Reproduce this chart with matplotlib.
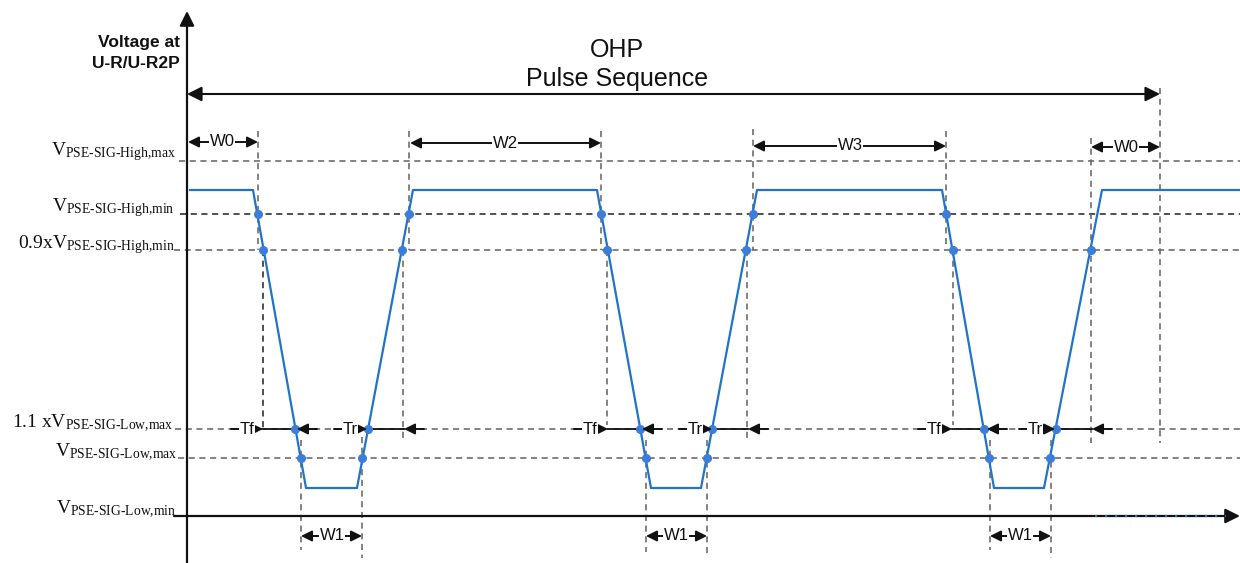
import matplotlib
matplotlib.use("Agg")
import matplotlib.pyplot as plt

plt.rcParams['mathtext.fontset'] = 'custom'
plt.rcParams['mathtext.rm'] = 'Liberation Serif'
plt.rcParams['mathtext.it'] = 'Liberation Serif:italic'
plt.rcParams['mathtext.bf'] = 'Liberation Serif:bold'

# ---------------- data (schematic units: x = time, y = voltage level, screen-like) -------------
level_labels = [r'$\mathrm{V}_{\text{PSE-SIG-High,max}}$',
                r'$\mathrm{V}_{\text{PSE-SIG-High,min}}$',
                r'$\mathrm{0.9xV}_{\text{PSE-SIG-High,min}}$',
                r'$\mathrm{1.1\ xV}_{\text{PSE-SIG-Low,max}}$',
                r'$\mathrm{V}_{\text{PSE-SIG-Low,max}}$',
                r'$\mathrm{V}_{\text{PSE-SIG-Low,min}}$']
level_y = [161, 214, 250, 429, 458, 516]
level_label_y = [152, 208, 245, 423, 452, 509]
level_label_x = [176, 175, 175, 173, 178, 176]
level_line_x0 = [179, 180, 174, 175, 178, 175]
level_colors = ['#606060', '#202020', '#606060', '#606060', '#606060', '#202020']

wave_t = [190, 253, 306, 357, 413, 597, 651, 701, 757, 942, 994, 1044, 1102, 1240]
wave_v = [190, 190, 488, 488, 190, 190, 488, 488, 190, 190, 488, 488, 190, 190]

dot_t = [258, 263, 295, 301, 362, 368, 402, 409,
         601, 607, 640, 646, 707, 712, 746, 753,
         946, 953, 984, 989, 1050, 1056, 1091]
dot_v = [214, 250, 429, 458, 458, 429, 250, 214,
         214, 250, 429, 458, 458, 429, 250, 214,
         214, 250, 429, 458, 458, 429, 250]

vmark_t = [258, 263, 409, 403, 301, 362,
           601, 607, 753, 747, 646, 707,
           946, 953, 1091, 1160, 990, 1051]
vmark_y0 = [131, 250, 131, 250, 440, 437,
            131, 250, 129, 250, 440, 440,
            131, 250, 138, 88, 440, 440]
vmark_y1 = [250, 429, 250, 440, 550, 558,
            250, 425, 250, 442, 552, 555,
            245, 425, 443, 443, 550, 558]
vmark_c = ['#606060', '#202020', '#606060', '#606060', '#606060', '#606060',
           '#606060', '#606060', '#606060', '#606060', '#606060', '#606060',
           '#606060', '#606060', '#606060', '#606060', '#606060', '#606060']

# width annotations (label, start, end, y, label x)
w_labels = ['W0', 'W2', 'W3', 'W0', 'W1', 'W1', 'W1']
w_start = [188, 410, 753, 1091, 301, 646, 990]
w_end = [258, 601, 946, 1160, 362, 707, 1051]
w_y = [142, 143, 146, 147, 536, 536, 536]
w_text_x = [222, 505, 850, 1126, 332, 676, 1020]

# rise/fall time annotations
t_labels = ['Tf', 'Tr', 'Tf', 'Tr', 'Tf', 'Tr']
t_left = [263, 367, 608, 712, 952, 1055]
t_right = [297, 404, 642, 748, 987, 1092]
t_text_x = [247, 350, 590, 695, 934, 1035]
t_y = 429

seq_start, seq_end, seq_y = 187, 1160, 94

# ---------------- drawing -------------
fig = plt.figure(figsize=(12.4, 5.63), dpi=100)
ax = fig.add_axes([0, 0, 1, 1])
ax.set_xlim(0, 1240)
ax.set_ylim(563, 0)
ax.axis('off')

black = '#111111'
blue = '#1f74c8'
dotblue = '#3b7dd8'

# axes arrows
ax.annotate('', xy=(187, 11), xytext=(187, 563),
            arrowprops=dict(arrowstyle='-|>', lw=1.6, color=black, mutation_scale=22,
                            shrinkA=0, shrinkB=0))
ax.annotate('', xy=(1240, level_y[5]), xytext=(174, level_y[5]),
            arrowprops=dict(arrowstyle='-|>', lw=1.6, color=black, mutation_scale=22,
                            shrinkA=0, shrinkB=0))
ax.plot([1095, 1226], [level_y[5], level_y[5]], color=blue, lw=1.6,
        linestyle=(0, (1, 3.5)), zorder=4)

# level lines and labels
for i, (lab, y) in enumerate(zip(level_labels, level_y)):
    if i < 5:
        ax.plot([level_line_x0[i], 1240], [y, y], color=level_colors[i], lw=1.1,
                linestyle=(0, (4, 3)), zorder=1)
    ax.text(level_label_x[i], level_label_y[i], lab, ha='right', va='center', fontsize=14,
            color='#111111')

# vertical marker lines
for t, y0, y1, c in zip(vmark_t, vmark_y0, vmark_y1, vmark_c):
    ax.plot([t, t], [y0, y1], color=c, lw=1.1, linestyle=(0, (4, 3)), zorder=1)

# waveform
ax.plot(wave_t, wave_v, color=blue, lw=1.6, zorder=3)
ax.plot(dot_t, dot_v, 'o', color=dotblue, ms=5.5, zorder=5)

# sequence arrow
ax.annotate('', xy=(seq_end, seq_y), xytext=(seq_start, seq_y),
            arrowprops=dict(arrowstyle='<|-|>', lw=1.5, color=black, mutation_scale=22,
                            shrinkA=0, shrinkB=0))
ax.text(617, 57, 'OHP', ha='center', va='baseline', fontsize=18,
        family='Liberation Sans', color='#111111')
ax.text(617, 86, 'Pulse Sequence', ha='center', va='baseline', fontsize=18,
        family='Liberation Sans', color='#111111')

ax.text(180, 47, 'Voltage at', ha='right', va='baseline', fontsize=12.5,
        fontweight='bold', family='Liberation Sans', color='#111111')
ax.text(180, 68, 'U-R/U-R2P', ha='right', va='baseline', fontsize=12.5,
        fontweight='bold', family='Liberation Sans', color='#111111')

# width annotations
for lab, a, b, y, tx in zip(w_labels, w_start, w_end, w_y, w_text_x):
    ax.annotate('', xy=(b, y), xytext=(a, y),
                arrowprops=dict(arrowstyle='<|-|>', lw=1.4, color=black, mutation_scale=16,
                                shrinkA=0, shrinkB=0), zorder=6)
    ax.text(tx, y, lab, ha='center', va='center', fontsize=12, family='Liberation Sans',
            color='#111111', zorder=7,
            bbox=dict(fc='white', ec='none', pad=0.3))

# rise/fall annotations
for lab, l, r, tx in zip(t_labels, t_left, t_right, t_text_x):
    ax.annotate('', xy=(l, t_y), xytext=(tx - 16, t_y),
                arrowprops=dict(arrowstyle='-|>', lw=1.4, color=black, mutation_scale=16,
                                shrinkA=0, shrinkB=0), zorder=6)
    ax.plot([l, r], [t_y, t_y], color=black, lw=1.3, zorder=2)
    ax.annotate('', xy=(r, t_y), xytext=(r + 20, t_y),
                arrowprops=dict(arrowstyle='-|>', lw=1.4, color=black, mutation_scale=16,
                                shrinkA=0, shrinkB=0), zorder=6)
    ax.text(tx, t_y, lab, ha='center', va='center', fontsize=12, family='Liberation Sans',
            color='#111111', zorder=7,
            bbox=dict(fc='white', ec='none', pad=0.3))

fig.savefig('out.png', dpi=100)
